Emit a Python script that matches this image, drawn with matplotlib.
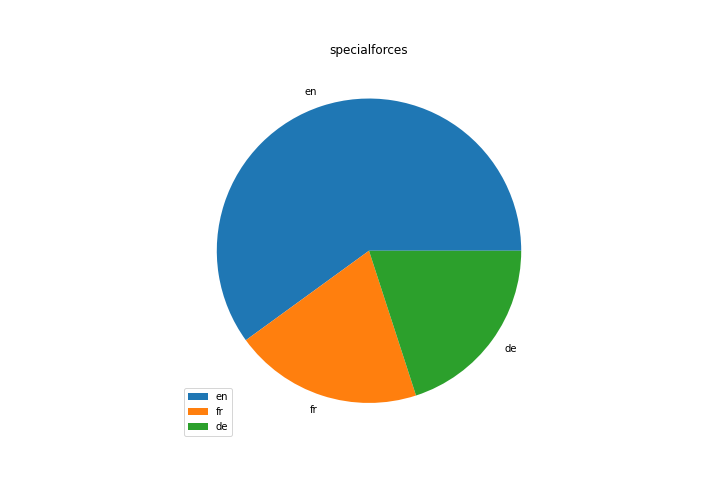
import matplotlib
matplotlib.use("Agg")
import matplotlib.pyplot as plt

labels = ["en", "fr", "de"]
values = [3, 1, 1]

fig, ax = plt.subplots(figsize=(10, 7), dpi=72)
fig.subplots_adjust(bottom=0.125, top=0.88)
ax.pie(values, labels=labels)
ax.set_title("specialforces")
ax.legend(loc="lower left")
fig.savefig("out.png")
